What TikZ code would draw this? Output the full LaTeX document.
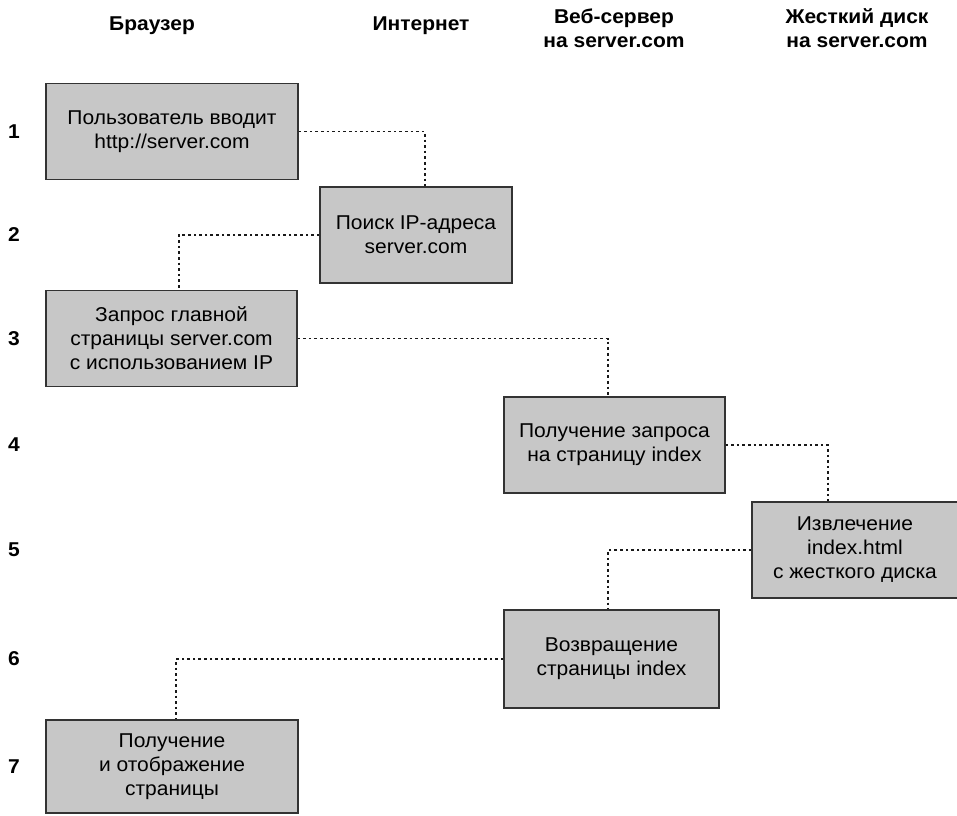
\documentclass[tikz,border=0pt]{standalone}
\usepackage{fontspec}
\setmainfont{Liberation Sans}[FakeStretch=1.05]
\tikzset{
stepbox/.style={draw=black!80,line width=1.2pt,fill=black!22,align=center,
  inner sep=0pt,minimum height=96pt,font=\fontsize{20}{24}\selectfont},
link/.style={line width=1.6pt,black!90,dash pattern=on 2.6pt off 3pt},
colhead/.style={align=center,font=\bfseries\fontsize{20}{24}\selectfont},
rownum/.style={font=\bfseries\fontsize{20}{24}\selectfont},
}
\begin{document}
\begin{tikzpicture}[x=1pt,y=-1pt]
\useasboundingbox (0,0) rectangle (957,815);
% column heads
\node[colhead] (hbrowser) at (152,26) {Браузер};
\node[colhead] (hnet) at (421,26) {Интернет};
\node[colhead] (hweb) at (614,28) {Веб-сервер\\на server.com};
\node[colhead] (hdisk) at (857,28) {Жесткий диск\\на server.com};
% steps
\node[stepbox,minimum width=252pt] (b1) at (172,131.5) {Пользователь вводит\\http://server.com};
\node[stepbox,minimum width=192pt] (b2) at (416,235) {Поиск IP-адреса\\server.com};
\node[stepbox,minimum width=251pt] (b3) at (171.5,338.5) {Запрос главной\\страницы server.com\\с использованием IP};
\node[stepbox,minimum width=221pt] (b4) at (614.5,445) {Получение запроса\\на страницу index};
\node[stepbox,minimum width=206pt] (b5) at (855,550) {Извлечение\\index.html\\с жесткого диска};
\node[stepbox,minimum width=215pt,minimum height=98pt] (b6) at (611.5,659) {Возвращение\\страницы index};
\node[stepbox,minimum width=252pt,minimum height=93pt] (b7) at (172,766.5) {Получение\\и отображение\\страницы};
% row numbers
\coordinate (numcol) at (14,0);
\foreach \i in {1,...,7} {
\node[rownum] (n\i) at (b\i -| numcol) {\i};
}
% dotted links
\foreach \src/\dst/\dx in {b1.east/b2.north/9,b2.west/b3.north/7.5,b3.east/b4.north/-6.5,
  b4.east/b5.north/-27,b5.west/b6.north/-3.5,b6.west/b7.north/4} {
\draw[link] (\src) -| ([xshift=\dx pt]\dst);
}
\end{tikzpicture}
\end{document}
